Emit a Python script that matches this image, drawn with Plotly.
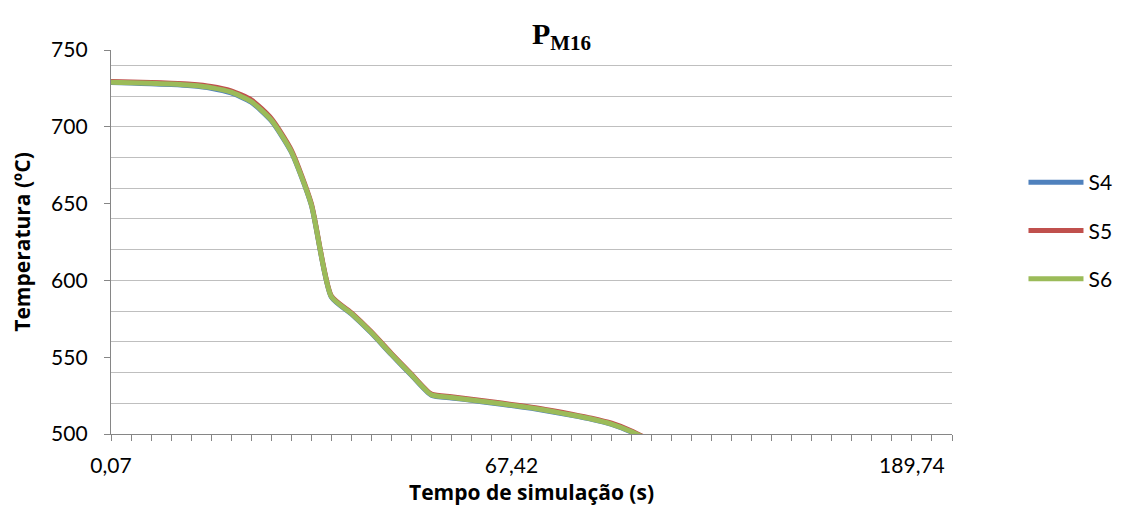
import plotly.graph_objects as go

# Category axis: simulation time (s)
tempo = ["0,07", "3,44", "6,81", "10,18", "13,55", "16,92", "20,29", "23,66", "27,03", "30,40",
         "33,77", "37,14", "40,51", "43,88", "47,25", "50,62", "53,99", "57,36", "60,73", "64,09",
         "67,42", "73,54", "79,66", "85,77", "91,89", "98,01", "104,12", "110,24", "116,36", "122,47",
         "128,59", "134,71", "140,82", "146,94", "153,06", "159,17", "165,29", "171,41", "177,52", "183,64",
         "189,74", "195,86", "201,97"]

s4 = [728.8, 728.5, 728.0, 727.5, 726.7, 725.1, 722.0, 716.0, 704.0, 683.6,
      649.2, 589.2, 578.2, 565.7, 551.7, 538.2, 525.2, 523.5, 521.9, 520.2,
      518.5, 516.7, 514.5, 512.1, 509.5, 506.2, 501.2, 494.7, 487.7, 480.7,
      473.7, 467.7, 461.7, 455.7, 450.7, 445.7, 440.7, 435.7, 431.7, 427.7,
      423.7, 419.7, 415.7]
s5 = [729.5, 729.2, 728.9, 728.4, 727.7, 726.3, 723.4, 717.6, 705.5, 685.0,
      650.3, 590.0, 579.0, 566.5, 552.5, 539.0, 526.0, 524.3, 522.7, 521.0,
      519.3, 517.5, 515.3, 512.9, 510.3, 507.0, 502.0, 495.4, 488.4, 481.4,
      474.4, 468.4, 462.4, 456.4, 451.4, 446.4, 441.4, 436.4, 432.4, 428.4,
      424.4, 420.4, 416.4]
s6 = [729.0, 728.7, 728.3, 727.8, 727.0, 725.5, 722.5, 716.5, 704.5, 684.0,
      649.5, 589.5, 578.5, 566.0, 552.0, 538.5, 525.5, 523.8, 522.2, 520.5,
      518.8, 517.0, 514.8, 512.4, 509.8, 506.5, 501.5, 495.0, 488.0, 481.0,
      474.0, 468.0, 462.0, 456.0, 451.0, 446.0, 441.0, 436.0, 432.0, 428.0,
      424.0, 420.0, 416.0]

series_names = ["S4", "S5", "S6"]
series_vals = [s4, s5, s6]
colors = ["#4F81BD", "#C0504D", "#9BBB59"]

y_ticks = [500, 550, 600, 650, 700, 750]
label_every = 20

FONT = "Lato, 'Open Sans', sans-serif"
TFONT = "'Open Sans', Lato, sans-serif"

# category positions (index of each time category)
pos = list(range(len(tempo)))
label_pos = pos[::label_every]
label_txt = tempo[::label_every]

fig = go.Figure()
for name, vals, col in zip(series_names, series_vals, colors):
    fig.add_trace(go.Scatter(
        x=pos, y=vals, name=name, mode="lines",
        text=tempo, hovertemplate="%{text}: %{y}<extra>" + name + "</extra>",
        line=dict(color=col, width=5, shape="spline", smoothing=0.6),
        legendgroup=name,
    ))

fig.update_layout(
    width=1115, height=501,
    paper_bgcolor="white", plot_bgcolor="white",
    margin=dict(l=103, r=171, t=42, b=75, autoexpand=False),
    font=dict(family=FONT, size=21, color="#000000"),
    title=dict(
        text="<b>P<sub>M16</sub></b>",
        font=dict(family="'Liberation Serif', 'DejaVu Serif', serif", size=30, color="#000000"),
        x=0.4964, xref="container", xanchor="center",
        y=0.95, yref="container", yanchor="middle",
    ),
    showlegend=True,
    legend=dict(
        x=1.085, xanchor="left", y=0.53, yanchor="middle",
        font=dict(family=FONT, size=21, color="#000000"),
        tracegroupgap=18, itemwidth=55,
        bgcolor="rgba(0,0,0,0)",
    ),
    xaxis=dict(
        type="linear",
        range=[0, len(tempo) - 1],
        tickmode="array", tickvals=label_pos, ticktext=label_txt,
        ticks="outside", ticklen=6, tickwidth=1.3, tickcolor="#868686",
        minor=dict(tick0=0, dtick=1, ticks="outside", ticklen=6, tickwidth=1.3,
                   tickcolor="#868686", showgrid=False),
        ticklabelstandoff=7,
        showline=True, linecolor="#868686", linewidth=1.3,
        showgrid=False, zeroline=False, automargin=False,
        tickfont=dict(family=FONT, size=21, color="#000000"),
        title=dict(text="<b>Tempo de simulação (s)</b>",
                   font=dict(family=TFONT, size=21, color="#000000"), standoff=8),
    ),
    yaxis=dict(
        range=[500, 750],
        tickmode="array", tickvals=y_ticks,
        ticks="outside", ticklen=6, tickwidth=1.3, tickcolor="#868686",
        ticklabelstandoff=12,
        showline=True, linecolor="#868686", linewidth=1.3,
        showgrid=False, zeroline=False, automargin=False,
        minor=dict(tick0=500, dtick=20, showgrid=True, gridcolor="#BFBFBF",
                   gridwidth=1.3, ticks=""),
        tickfont=dict(family=FONT, size=21, color="#000000"),
        title=dict(text="<b>Temperatura (ºC)</b>",
                   font=dict(family=TFONT, size=21, color="#000000"), standoff=26),
    ),
)

fig.write_html("out.html")
